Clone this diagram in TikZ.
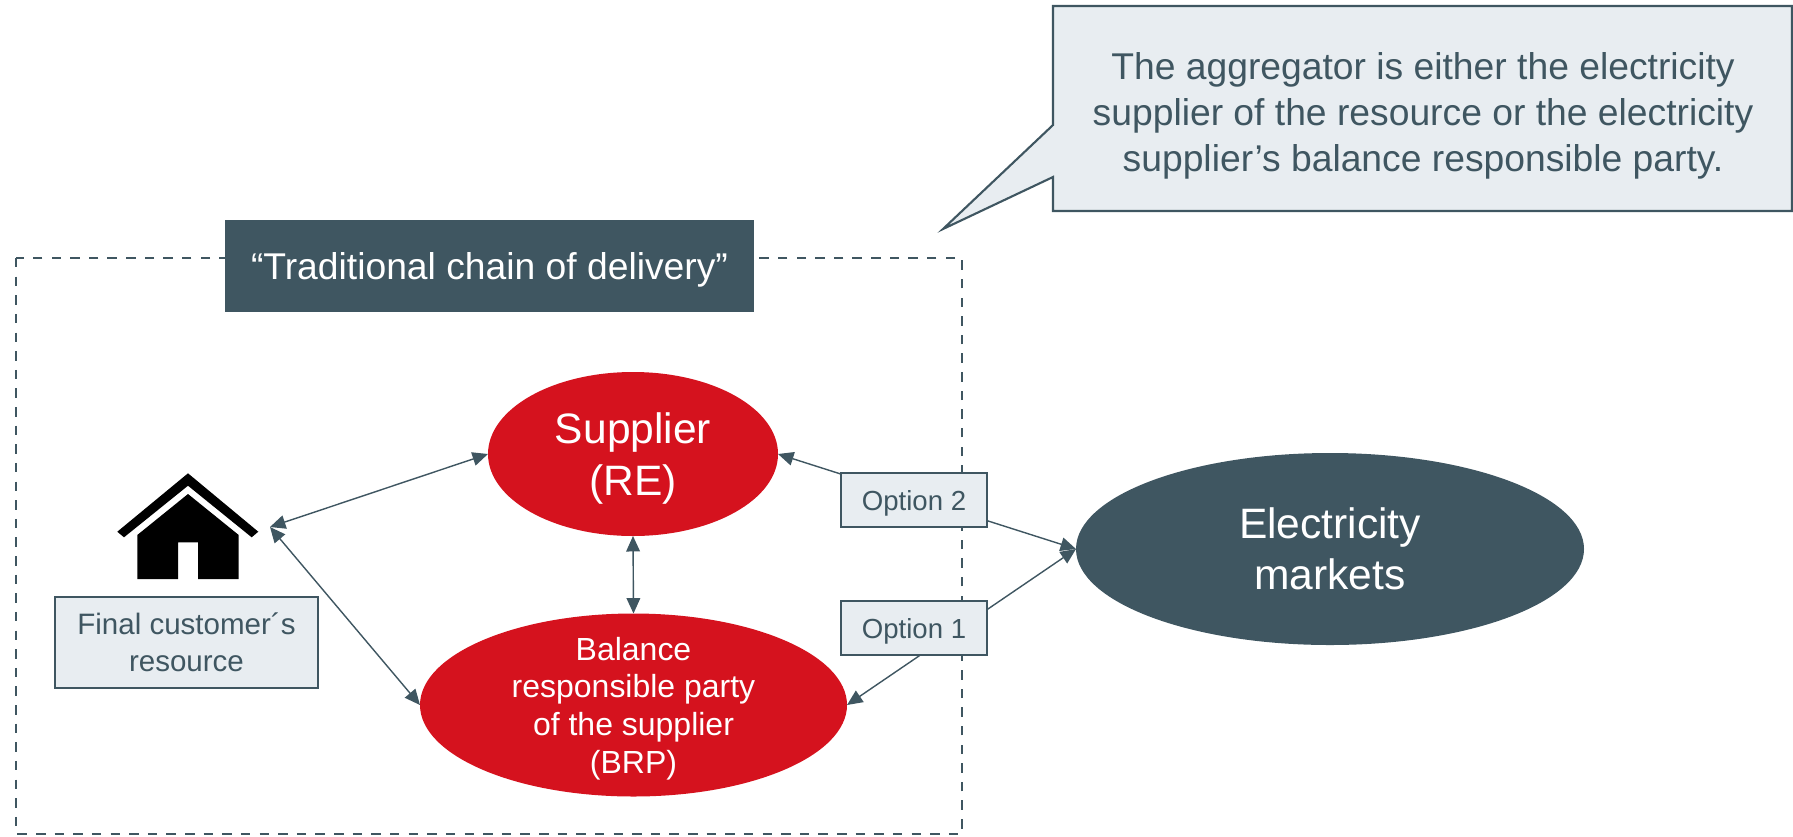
\documentclass[tikz,border=0pt]{standalone}
\usepackage{fontspec}
\setmainfont{Liberation Sans}
\usetikzlibrary{arrows.meta,shapes.geometric}
\definecolor{slate}{HTML}{3F5661}
\definecolor{paleblue}{HTML}{E8EDF1}
\definecolor{signalred}{HTML}{D5121E}
\tikzset{
	labelbox/.style={draw=slate, line width=0.55pt, fill=paleblue, text=slate, align=center, inner sep=0pt, outer sep=0pt},
	redoval/.style={ellipse, fill=signalred, text=white, align=center, inner sep=0pt, outer sep=0pt, text depth=0pt},
	link/.style={draw=slate, line width=0.4pt, <->}
}
\begin{document}
\begin{tikzpicture}[>={Triangle[length=4.4pt, width=3.9pt]}, line join=miter, font=\fontsize{7.85}{9.4}\selectfont]
			\useasboundingbox (0,0) rectangle (17.93,8.36);
			\draw[slate, line width=0.75pt, dash pattern=on 2.7pt off 2.6pt] (0.16,5.78) rectangle (9.62,0.02);
			\node[fill=slate, text=white, minimum width=5.29cm, minimum height=0.92cm, inner sep=0pt, text depth=0pt, font=\fontsize{10.6}{12.7}\selectfont] (chain) at (4.895,5.70) {“Traditional chain of delivery”};
			\node[redoval, minimum width=2.90cm, minimum height=1.64cm, font=\fontsize{12.1}{15}\selectfont] (supplier) at (6.33,3.82) {Supplier\\(RE)};
			\node[redoval, inner ysep=-4pt, minimum width=4.27cm, minimum height=1.83cm, font=\fontsize{9.1}{10.7}\selectfont] (brp) at (6.335,1.31) {Balance\\responsible party\\of the supplier\\(BRP)};
			\node[ellipse, fill=slate, text=white, align=center, inner sep=0pt, outer sep=0pt, minimum width=5.08cm, minimum height=1.92cm, font=\fontsize{12.1}{14.5}\selectfont] (markets) at (13.30,2.87) {Electricity\\markets};
			\coordinate (home) at (2.70,3.09);
			\fill[black] (1.173,3.043) -- (1.88,3.627) -- (2.583,3.043) -- (2.517,2.987) -- (1.88,3.503) -- (1.24,2.987) -- cycle;
			\fill[black] (1.373,3.01) -- (1.88,3.42) -- (2.387,3.01) -- (2.387,2.57) -- (1.98,2.57) -- (1.98,2.937) -- (1.78,2.937) -- (1.78,2.57) -- (1.373,2.57) -- cycle;
			\node[labelbox, minimum width=2.63cm, minimum height=0.91cm, font=\fontsize{8.4}{10.4}\selectfont] (customer) at (1.865,1.935) {Final customer´s\\resource};
			\draw[link] (home) -- (supplier.west);
			\draw[link] (home) -- (brp.west);
			\draw[link] (supplier.south) -- (brp.north);
			\draw[link] (supplier.east) -- (markets.west);
			\draw[link] (brp.east) -- (markets.west);
			\node[labelbox, minimum width=1.46cm, minimum height=0.54cm, text depth=0pt] (option2) at (9.14,3.36) {Option 2};
			\node[labelbox, minimum width=1.46cm, minimum height=0.54cm, text depth=0pt] (option1) at (9.14,2.08) {Option 1};
			\draw[slate, line width=0.6pt, fill=paleblue] (10.53,8.30) -- (17.92,8.30) -- (17.92,6.25) -- (10.53,6.25) -- (10.53,6.59) -- (9.43,6.07) -- (10.53,7.11) -- cycle;
			\node[text=slate, align=center, inner sep=0pt, font=\fontsize{10.6}{13.1}\selectfont] (note) at (14.23,7.20) {The aggregator is either the electricity\\supplier of the resource or the electricity\\supplier’s balance responsible party.};
		\end{tikzpicture}
\end{document}
